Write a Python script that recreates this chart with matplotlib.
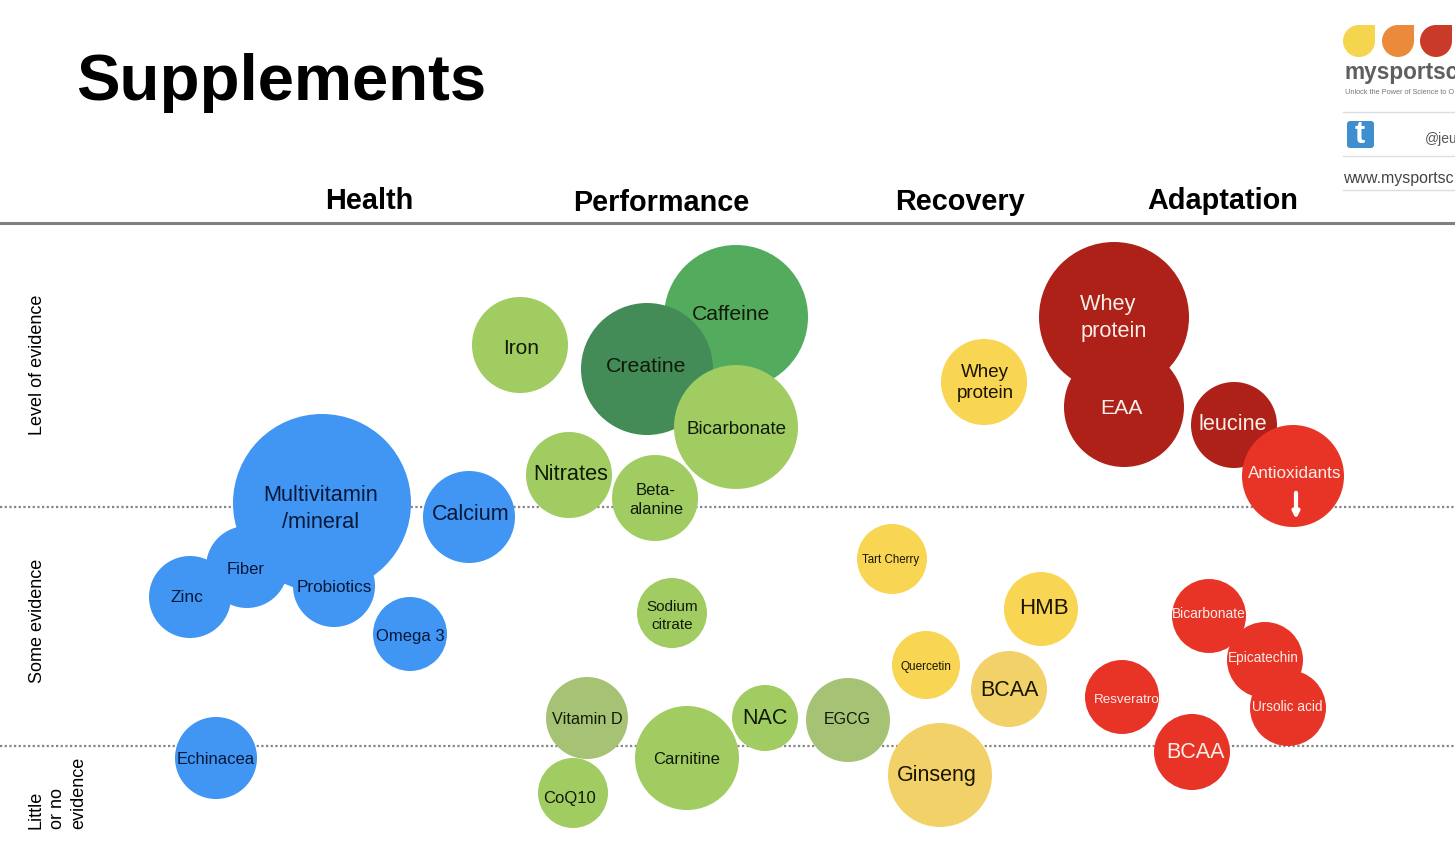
import matplotlib
matplotlib.use("Agg")
import matplotlib.pyplot as plt
from matplotlib.patches import Circle, Rectangle, FancyBboxPatch

plt.rcParams['font.family'] = ['Liberation Sans', 'DejaVu Sans']

# bubbles per column: name, x, y, radius
health_names = ["Multivitamin\n/mineral", "Calcium", "Fiber", "Zinc", "Probiotics", "Omega 3", "Echinacea"]
health_x = [322, 469, 247, 190, 334, 410, 216]
health_y = [503, 517, 567, 597, 586, 634, 758]
health_r = [89, 46, 41, 41, 41, 37, 41]

perf_names = ["Iron", "Caffeine", "Creatine", "Bicarbonate", "Nitrates", "Beta-\nalanine",
              "Sodium\ncitrate", "Vitamin D", "Carnitine", "NAC", "EGCG", "CoQ10"]
perf_x = [520, 736, 647, 736, 569, 655, 672, 587, 687, 765, 848, 573]
perf_y = [345, 317, 369, 427, 475, 498, 613, 718, 758, 718, 720, 793]
perf_r = [48, 72, 66, 62, 43, 43, 35, 41, 52, 33, 42, 35]

rec_names = ["Whey\nprotein", "Tart Cherry", "HMB", "Quercetin", "BCAA", "Ginseng"]
rec_x = [984, 892, 1041, 926, 1009, 940]
rec_y = [382, 559, 609, 665, 689, 775]
rec_r = [43, 35, 37, 34, 38, 52]

adapt_names = ["Whey  \nprotein", "EAA", "leucine", "Antioxidants", "Bicarbonate", "Epicatechin",
               "Ursolic acid", "Resveratrol", "BCAA"]
adapt_x = [1114, 1124, 1234, 1293, 1209, 1265, 1288, 1122, 1192]
adapt_y = [317, 407, 425, 476, 616, 660, 708, 697, 752]
adapt_r = [75, 60, 43, 51, 37, 38, 38, 37, 38]

columns = ["Health", "Performance", "Recovery", "Adaptation"]
column_x = [369, 661, 960, 1223]
column_y = [201, 203, 202, 201]

# where the labels sit inside the bubbles
health_lx = [321, 471, 246, 187, 334, 410, 216]
health_ly = [509, 515, 569, 598, 588, 636, 760]
perf_lx = [521, 731, 646, 736, 571, 656, 672, 587, 687, 765, 847, 569]
perf_ly = [349, 315, 367, 430, 475, 500, 616, 719, 760, 719, 720, 798]
rec_lx = [985, 891, 1044, 926, 1009, 937]
rec_ly = [383, 560, 609, 667, 691, 776]
adapt_lx = [1114, 1121, 1233, 1295, 1209, 1263, 1287, 1128, 1195]
adapt_ly = [318, 409, 424, 473, 614, 658, 707, 700, 753]

# colours and font sizes
health_col = ["#4096f2"] * 7
perf_col = ["#a0cc62", "#53ab5e", "#438c58", "#a0cc62", "#a0cc62", "#a0cc62",
            "#a0cc62", "#a6c274", "#a0cc62", "#a0cc62", "#a6c274", "#a0cc62"]
rec_col = ["#f8d552", "#f8d552", "#f8d552", "#f8d552", "#f2d268", "#f2d268"]
adapt_col = ["#ad2118", "#ad2118", "#ad2118", "#e83426", "#e83426", "#e83426", "#e83426", "#e83426", "#e83426"]

health_fs = [15.7, 15.5, 12, 12.5, 12.3, 12, 12]
perf_fs = [15, 15.2, 15.3, 13.5, 15.7, 12, 11, 11.7, 12, 15.5, 11.5, 12]
rec_fs = [13.5, 8.3, 16, 8.5, 15.5, 15.5]
adapt_fs = [15.7, 15.3, 15.7, 12.3, 9.9, 9.8, 9.8, 9.6, 15.5]

fig = plt.figure(figsize=(14.55, 8.65), dpi=100)
ax = fig.add_axes([0, 0, 1, 1])
ax.set_xlim(0, 1455)
ax.set_ylim(865, 0)
ax.axis('off')

ax.text(76, 83, "Supplements", fontsize=47.1, fontweight='bold', va='center', color='black')

ax.plot([0, 1455], [223, 223], color='#808080', lw=2.2, zorder=1)
for yy in [507, 746]:
    ax.plot([0, 1455], [yy, yy], color='#858585', lw=1.6, ls=(0, (1, 1.1)), zorder=1)

for n, xx, yy in zip(columns, column_x, column_y):
    ax.text(xx, yy, n, fontsize=20.8, fontweight='bold', ha='center', va='center')

# labels on the left
ax.text(38, 365, "Level of evidence", rotation=90, fontsize=13, ha='center', va='center')
ax.text(38, 621, "Some evidence", rotation=90, fontsize=13, ha='center', va='center')
ax.text(36, 829, "Little", rotation=90, fontsize=13, ha='center', va='bottom')
ax.text(58, 829, "or no", rotation=90, fontsize=13, ha='center', va='bottom')
ax.text(79, 829, "evidence", rotation=90, fontsize=13, ha='center', va='bottom')


def bubbles(names, xs, ys, rs, cols, sizes, lx, ly, txt_col, z=3):
    for i in range(len(names)):
        ax.add_patch(Circle((xs[i], ys[i]), rs[i], color=cols[i], lw=0, zorder=z + i * 0.01))
    for i in range(len(names)):
        ax.text(lx[i], ly[i], names[i], fontsize=sizes[i], color=txt_col, ha='center', va='center',
                zorder=6, linespacing=1.35)


bubbles(health_names, health_x, health_y, health_r, health_col, health_fs, health_lx, health_ly, '#08183a')
bubbles(perf_names, perf_x, perf_y, perf_r, perf_col, perf_fs, perf_lx, perf_ly, '#111a08')
bubbles(rec_names, rec_x, rec_y, rec_r, rec_col, rec_fs, rec_lx, rec_ly, '#1a1400')
bubbles(adapt_names, adapt_x, adapt_y, adapt_r, adapt_col, adapt_fs, adapt_lx, adapt_ly, '#fbeee9')

# arrow under Antioxidants
ax.annotate("", xy=(1296, 522), xytext=(1296, 490),
            arrowprops=dict(arrowstyle='-|>', color='white', lw=3, mutation_scale=9), zorder=7)

# logo top right
for xx, cc in zip([1359, 1398, 1436], ['#f6d54e', '#ec8a3c', '#c93a28']):
    ax.add_patch(Circle((xx, 41), 16, color=cc, lw=0))
    ax.add_patch(Rectangle((xx, 25), 16, 16, color=cc, lw=0))
ax.text(1344, 72, "mysportsc", fontsize=16.3, fontweight='bold', color='#5f5f5f', va='center')
ax.text(1345, 93, "Unlock the Power of Science to O", fontsize=5.3, color='#777777', va='center')
for yy in [112, 156, 190]:
    ax.plot([1343, 1455], [yy, yy], color='#dddddd', lw=1)
ax.add_patch(FancyBboxPatch((1348, 122), 25, 25, boxstyle='round,pad=1,rounding_size=3', color='#3f8fd0', lw=0))
ax.text(1360, 135, "t", fontsize=22, fontweight='bold', color='white', ha='center', va='center')
ax.text(1425, 139, "@jeu", fontsize=10, color='#555555', va='center')
ax.text(1343, 178, "www.mysportsc", fontsize=11.4, color='#444444', va='center')

plt.savefig("out.png", dpi=100)
